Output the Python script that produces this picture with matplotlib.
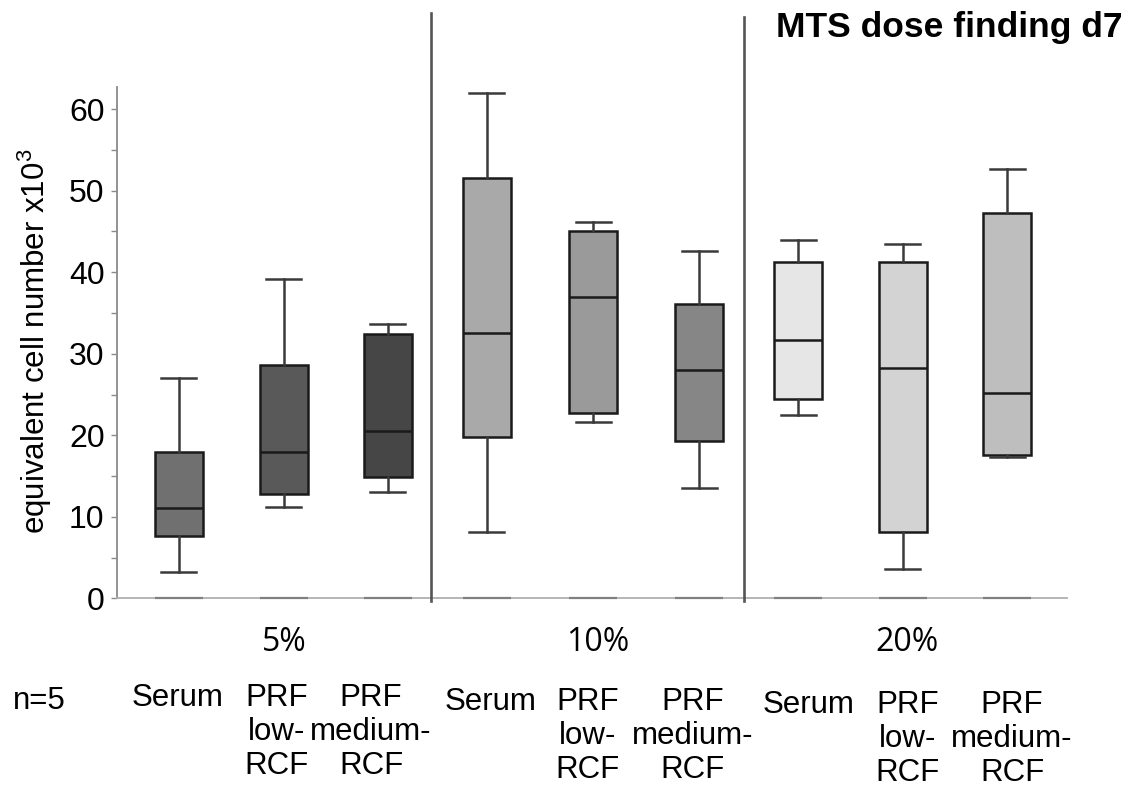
import matplotlib
matplotlib.use("Agg")
import matplotlib.pyplot as plt
from matplotlib.ticker import MultipleLocator

plt.rcParams["mathtext.fontset"] = "custom"
plt.rcParams["mathtext.rm"] = "Liberation Sans"
plt.rcParams["mathtext.it"] = "Liberation Sans"

# ---- data ----
groups = ["5%", "10%", "20%"]
categories = ["Serum", "PRF\nlow-\nRCF", "PRF\nmedium-\nRCF"] * 3
whislo = [3.2, 11.2, 13.1, 8.2, 21.6, 13.5, 22.5, 3.6, 17.4]
q1     = [7.6, 12.8, 14.9, 19.8, 22.7, 19.3, 24.5, 8.1, 17.6]
med    = [11.1, 17.9, 20.5, 32.6, 37.0, 28.0, 31.7, 28.3, 25.2]
q3     = [17.9, 28.6, 32.4, 51.6, 45.0, 36.1, 41.2, 41.2, 47.3]
whishi = [27.0, 39.2, 33.6, 62.0, 46.1, 42.6, 44.0, 43.5, 52.6]
yticks = [0, 10, 20, 30, 40, 50, 60]

# ---- style / layout ----
positions = [1.005, 2.018, 3.022, 3.98, 5.006, 6.029, 6.983, 7.993, 9.004]
label_x = [0.996, 1.953, 2.863, 4.012, 4.953, 5.966, 7.081, 8.041, 9.050]
label_y = [-0.166] * 3 + [-0.173] * 3 + [-0.180] * 3
group_x = [2.02, 5.05, 8.03]
sep_x = [3.442, 6.463]
sep_top = [1.146, 1.138]
colors = ["#707070", "#595959", "#464646",
          "#a9a9a9", "#9a9a9a", "#868686",
          "#e6e6e6", "#d3d3d3", "#bebebe"]
FONT = "Liberation Sans"
FS = 22.5

fig = plt.figure(figsize=(11.34, 7.91), dpi=100)
ax = fig.add_axes([0.1032, 0.2434, 0.8378, 0.646])

stats = []
for i in range(len(med)):
    stats.append(dict(med=med[i], q1=q1[i], q3=q3[i],
                      whislo=whislo[i], whishi=whishi[i], fliers=[]))

bp = ax.bxp(stats, positions=positions, widths=0.463, capwidths=0.338,
            patch_artist=True, showfliers=False,
            boxprops=dict(edgecolor="#1a1a1a", linewidth=1.8),
            medianprops=dict(color="#1a1a1a", linewidth=1.8),
            whiskerprops=dict(color="#3a3a3a", linewidth=1.8),
            capprops=dict(color="#3a3a3a", linewidth=1.8))
for patch, c in zip(bp["boxes"], colors):
    patch.set_facecolor(c)

# dark segments on the baseline under each box
for p in positions:
    ax.plot([p - 0.2315, p + 0.2315], [0, 0], color="#808080", lw=1.6,
            solid_capstyle="butt", clip_on=False, zorder=3)

ax.set_xlim(0.41, 9.58)
ax.set_ylim(0, 62.64)
ax.set_yticks(yticks)
ax.yaxis.set_minor_locator(MultipleLocator(5))
ax.set_yticklabels([str(t) for t in yticks], fontsize=FS + 0.5, family=FONT)
ax.tick_params(axis="y", which="both", direction="out", length=4,
               width=1.0, color="#8a8a8a", pad=5)
ax.set_xticks([])

for s in ["top", "right"]:
    ax.spines[s].set_visible(False)
ax.spines["left"].set_color("#8a8a8a")
ax.spines["left"].set_linewidth(1.3)
ax.spines["bottom"].set_color("#b0b0b0")
ax.spines["bottom"].set_linewidth(1.3)

ax.set_ylabel(r"equivalent cell number x10$^{3}$", fontsize=FS, family=FONT)
ax.yaxis.set_label_coords(-0.066, 0.504)

# separators between concentration groups
for x, t in zip(sep_x, sep_top):
    ax.axvline(x, ymin=-0.005, ymax=t, color="#555555", lw=1.9,
               clip_on=False, zorder=4)

trans = ax.get_xaxis_transform()
for gx, g in zip(group_x, groups):
    ax.text(gx, -0.087, g, transform=trans, ha="center", va="center",
            fontsize=FS + 0.5, family="Open Sans")
for lx, ly, lab in zip(label_x, label_y, categories):
    ax.text(lx, ly, lab, transform=trans, ha="center", va="top",
            fontsize=FS, family=FONT, multialignment="center",
            linespacing=1.17)

fig.text(13 / 1134, 1 - 701 / 791, "n=5", ha="left", va="center",
         fontsize=FS, family=FONT)
fig.text(1122 / 1134, 1 - 27 / 791, "MTS dose finding d7", ha="right",
         va="center", fontsize=25.5, family=FONT, fontweight="bold")

fig.savefig("out.png", dpi=100)
